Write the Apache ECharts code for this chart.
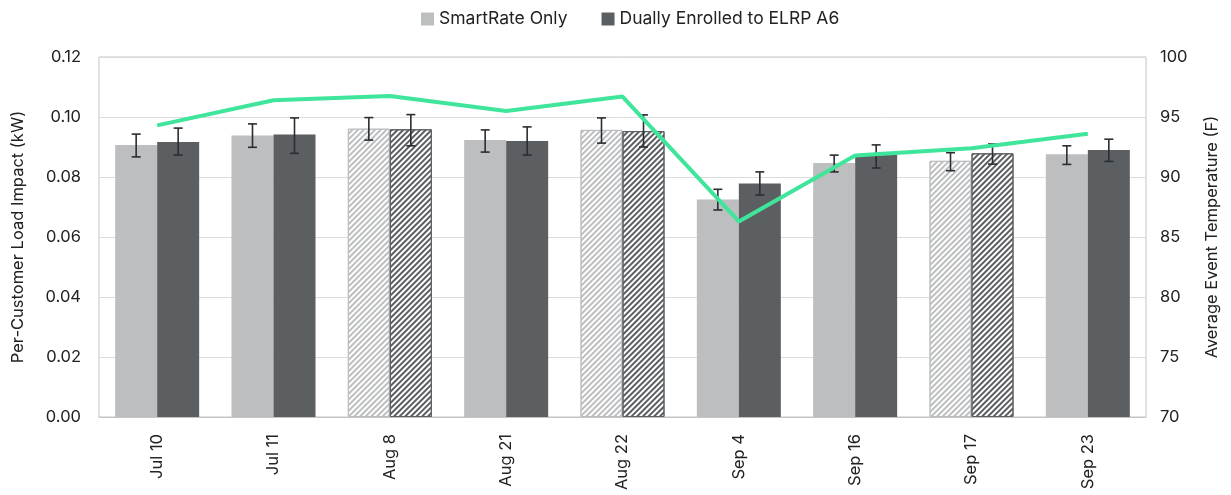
<!DOCTYPE html>
<html><head><meta charset="utf-8">
<script src="https://cdn.jsdelivr.net/npm/echarts@6/dist/echarts.min.js"></script>
<style>html,body{margin:0;padding:0;background:#fff}#c{width:1231px;height:495px}</style>
</head><body><div id="c"></div>
<script>
const categories = ['Jul 10','Jul 11','Aug 8','Aug 21','Aug 22','Sep 4','Sep 16','Sep 17','Sep 23'];
const hatched = [false,false,true,false,true,false,false,true,false];
const smartRate = [0.0907,0.0938,0.0961,0.0923,0.0957,0.0725,0.0847,0.0854,0.0876];
const smartLow  = [0.0867,0.0899,0.0923,0.0883,0.0913,0.0690,0.0817,0.0821,0.0842];
const smartHigh = [0.0943,0.0977,0.0998,0.0957,0.0997,0.0759,0.0873,0.0881,0.0904];
const dual      = [0.0917,0.0942,0.0959,0.0920,0.0953,0.0778,0.0873,0.0879,0.0890];
const dualLow   = [0.0873,0.0879,0.0904,0.0873,0.0900,0.0740,0.0830,0.0843,0.0852];
const dualHigh  = [0.0963,0.0997,0.1008,0.0967,0.1007,0.0817,0.0907,0.0910,0.0926];
const temperature = [94.3,96.4,96.75,95.5,96.7,86.3,91.8,92.4,93.6];
const leftTicks = {min:0,max:0.12,interval:0.02};
const rightTicks = {min:70,max:100,interval:5};

const FONT = 'Inter, "Open Sans", sans-serif';
const C_SMART = '#BCBEC0', C_DUAL = '#5B5F62';
const BARW = 42;

function barData(vals, color){
  return vals.map((v,i)=> hatched[i] ? {value:v, itemStyle:{color:'#ffffff', borderColor:color, borderWidth:1,
    decal:{symbol:'rect', color:color, dashArrayX:[1,0], dashArrayY:[1.2,1.9], rotation:-Math.PI/4, symbolSize:1}}} : v);
}
function errData(lo,hi){ return lo.map((l,i)=>[i,l,hi[i]]); }
function errRender(offset){
  return function(params, api){
    const x = api.value(0);
    const lo = api.coord([x, api.value(1)]);
    const hi = api.coord([x, api.value(2)]);
    const cx = lo[0] + offset;
    const cap = 4.5;
    const st = {stroke:'#2a2d33', lineWidth:1.6};
    return {type:'group', children:[
      {type:'line', shape:{x1:cx,y1:hi[1],x2:cx,y2:lo[1]}, style:st},
      {type:'line', shape:{x1:cx-cap,y1:hi[1],x2:cx+cap,y2:hi[1]}, style:st},
      {type:'line', shape:{x1:cx-cap,y1:lo[1],x2:cx+cap,y2:lo[1]}, style:st}
    ]};
  };
}

const chart = echarts.init(document.getElementById('c'));
chart.setOption({
  animation:false,
  textStyle:{fontFamily:FONT},
  legend:{top:5, left:416, data:['SmartRate Only','Dually Enrolled to ELRP A6'], icon:'rect', itemWidth:13, itemHeight:13, itemGap:34,
    textStyle:{fontSize:17.5, color:'#222', fontFamily:FONT}},
  grid:{left:99, right:85, top:57, bottom:78, show:true, borderColor:'#c4c4c4', borderWidth:1},
  xAxis:{type:'category', data:categories,
    axisLine:{show:true, lineStyle:{color:'#c4c4c4'}}, axisTick:{show:false},
    axisLabel:{rotate:90, fontSize:16.5, color:'#222', margin:17, fontFamily:FONT}},
  yAxis:[
    {type:'value', min:leftTicks.min, max:leftTicks.max, interval:leftTicks.interval,
      name:'Per-Customer Load Impact (kW)', nameLocation:'middle', nameGap:72, nameRotate:90,
      nameTextStyle:{fontSize:16.5, color:'#222', fontFamily:FONT},
      axisLabel:{formatter:v=>v.toFixed(2), fontSize:16.5, color:'#222', margin:18, fontFamily:FONT},
      axisLine:{show:false}, axisTick:{show:false},
      splitLine:{lineStyle:{color:'#dcdcdc'}}},
    {type:'value', min:rightTicks.min, max:rightTicks.max, interval:rightTicks.interval,
      name:'Average Event Temperature (F)', nameLocation:'middle', nameGap:58, nameRotate:90,
      nameTextStyle:{fontSize:16.5, color:'#222', fontFamily:FONT},
      axisLabel:{fontSize:16.5, color:'#222', margin:14, fontFamily:FONT},
      axisLine:{show:false}, axisTick:{show:false}, splitLine:{show:false}}
  ],
  series:[
    {name:'SmartRate Only', type:'bar', data:barData(smartRate,C_SMART), itemStyle:{color:C_SMART}, barWidth:BARW, barGap:'0%'},
    {name:'Dually Enrolled to ELRP A6', type:'bar', data:barData(dual,C_DUAL), itemStyle:{color:C_DUAL}, barWidth:BARW, barGap:'0%'},
    {name:'errSmart', type:'custom', data:errData(smartLow,smartHigh), renderItem:errRender(-BARW/2), z:5},
    {name:'errDual', type:'custom', data:errData(dualLow,dualHigh), renderItem:errRender(BARW/2), z:5},
    {name:'Temperature', type:'line', yAxisIndex:1, data:temperature, symbol:'none',
      lineStyle:{color:'#3FE59A', width:4}, itemStyle:{color:'#3FE59A'}, z:10}
  ]
});
</script></body></html>
